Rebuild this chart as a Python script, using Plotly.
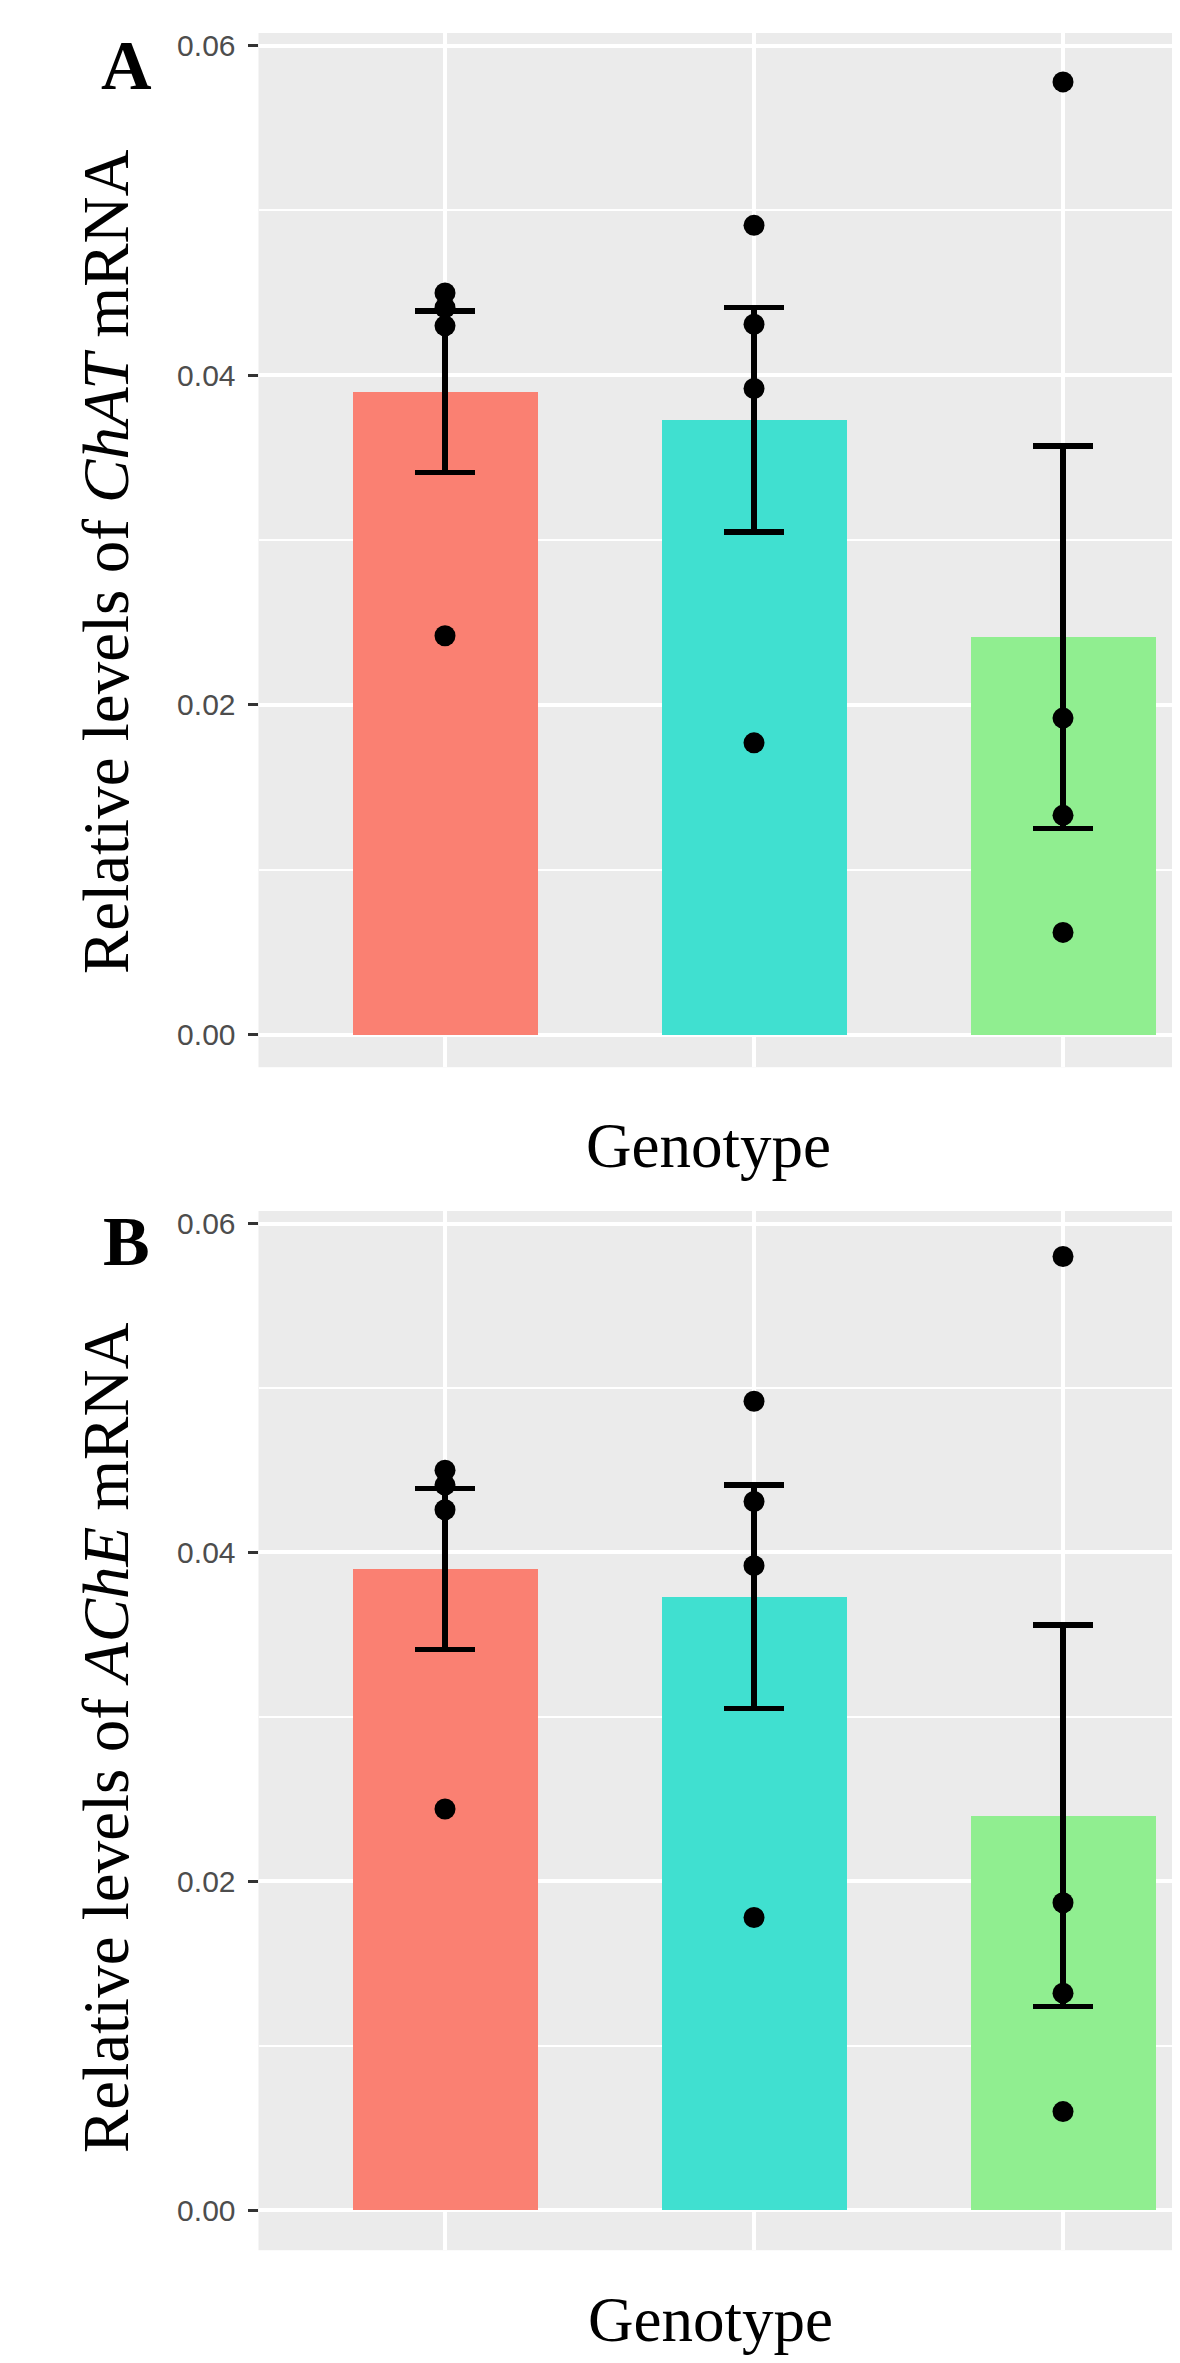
import plotly.graph_objects as go

# ---------------- data ----------------
genotypes = ["Genotype 1", "Genotype 2", "Genotype 3"]
bar_colors = ["#FA8072", "#40E0D0", "#90EE90"]

chat_mean = [0.0390, 0.0373, 0.0241]
chat_se = [0.0049, 0.0068, 0.0116]
chat_g1 = [0.0450, 0.0441, 0.0430, 0.0242]
chat_g2 = [0.0491, 0.0431, 0.0392, 0.0177]
chat_g3 = [0.0578, 0.0192, 0.0133, 0.0062]

ache_mean = [0.0390, 0.0373, 0.0240]
ache_se = [0.0049, 0.0068, 0.0116]
ache_g1 = [0.0450, 0.0441, 0.0426, 0.0244]
ache_g2 = [0.0492, 0.0431, 0.0392, 0.0178]
ache_g3 = [0.0580, 0.0187, 0.0132, 0.0060]

ytick_vals = [0.00, 0.02, 0.04, 0.06]
ytick_text = ["0.00", "0.02", "0.04", "0.06"]
yminor_vals = [0.01, 0.03, 0.05]

panel_labels = ["A", "B"]
ytitles = ["Relative levels of <i>ChAT</i> mRNA", "Relative levels of <i>AChE</i> mRNA"]
xtitle = "Genotype"

# ---------------- figure ----------------
PAGE_W, PAGE_H = 1180, 2363
OFF = 8  # default body margin of the html page
W, H = PAGE_W - OFF, PAGE_H - OFF


def px(xp):
    return (xp - OFF) / W


def py(yp):
    return 1 - (yp - OFF) / H


fig = go.Figure()

panels = [
    dict(mean=chat_mean, se=chat_se, pts=[chat_g1, chat_g2, chat_g3],
         xa="x", ya="y", top=29, bottom=1065, yr=[-0.00198, 0.06077]),
    dict(mean=ache_mean, se=ache_se, pts=[ache_g1, ache_g2, ache_g3],
         xa="x2", ya="y2", top=1209, bottom=2250, yr=[-0.00243, 0.06077]),
]

for p in panels:
    fig.add_trace(go.Bar(
        x=genotypes, y=p["mean"], width=0.6,
        marker=dict(color=bar_colors, line=dict(width=0)),
        error_y=dict(type="data", array=p["se"], color="black",
                     thickness=5.5, width=30),
        xaxis=p["xa"], yaxis=p["ya"], showlegend=False, hoverinfo="skip"))
    for g, vals in zip(genotypes, p["pts"]):
        fig.add_trace(go.Scatter(
            x=[g] * len(vals), y=vals, mode="markers",
            marker=dict(color="black", size=21, line=dict(width=0)),
            xaxis=p["xa"], yaxis=p["ya"], showlegend=False, hoverinfo="skip"))

panel_left = 258.5
xrange = [-0.6036, -0.6036 + (PAGE_W - panel_left) / 309.0]

common_x = dict(domain=[px(panel_left), 1.0], range=xrange, type="category",
                categoryorder="array", categoryarray=genotypes,
                showticklabels=False, ticks="", showgrid=True,
                gridcolor="white", gridwidth=3.5, zeroline=False,
                showline=False, fixedrange=True)


def yax(p, anchor):
    return dict(domain=[py(p["bottom"]), py(p["top"])], range=p["yr"],
                anchor=anchor, tickmode="array", tickvals=ytick_vals,
                ticktext=ytick_text, ticks="outside", ticklen=10, tickwidth=3,
                tickcolor="#333333",
                tickfont=dict(family="Liberation Sans", size=30, color="#4D4D4D"),
                showgrid=True, gridcolor="white", gridwidth=3.5,
                minor=dict(tickvals=yminor_vals, showgrid=True,
                           gridcolor="white", gridwidth=2, ticks=""),
                zeroline=False, showline=False, fixedrange=True,
                ticklabelstandoff=6)


fig.update_layout(
    width=W, height=H,
    margin=dict(l=0, r=0, t=0, b=0),
    paper_bgcolor="white", plot_bgcolor="#EBEBEB",
    xaxis=dict(common_x, anchor="y"),
    xaxis2=dict(common_x, anchor="y2"),
    yaxis=yax(panels[0], "x"),
    yaxis2=yax(panels[1], "x2"),
    bargap=0,
)

serif = "Liberation Serif"
annos = []
label_pos = [(126, 62), (126, 1240)]
title_pos = [(106, 559), (106, 1737)]
geno_pos = [(708, 1144), (710, 2320)]
for i in range(2):
    annos.append(dict(text="<b>" + panel_labels[i] + "</b>",
                      x=px(label_pos[i][0]), y=py(label_pos[i][1]),
                      xref="paper", yref="paper", xanchor="center", yanchor="middle",
                      showarrow=False, font=dict(family=serif, size=70, color="black")))
    annos.append(dict(text=ytitles[i], x=px(title_pos[i][0]), y=py(title_pos[i][1]),
                      textangle=-90,
                      xref="paper", yref="paper", xanchor="center", yanchor="middle",
                      showarrow=False, font=dict(family=serif, size=65, color="black")))
    annos.append(dict(text=xtitle, x=px(geno_pos[i][0]), y=py(geno_pos[i][1]),
                      xref="paper", yref="paper", xanchor="center", yanchor="middle",
                      showarrow=False, font=dict(family=serif, size=63, color="black")))
fig.update_layout(annotations=annos)

fig.write_html("out.html")
